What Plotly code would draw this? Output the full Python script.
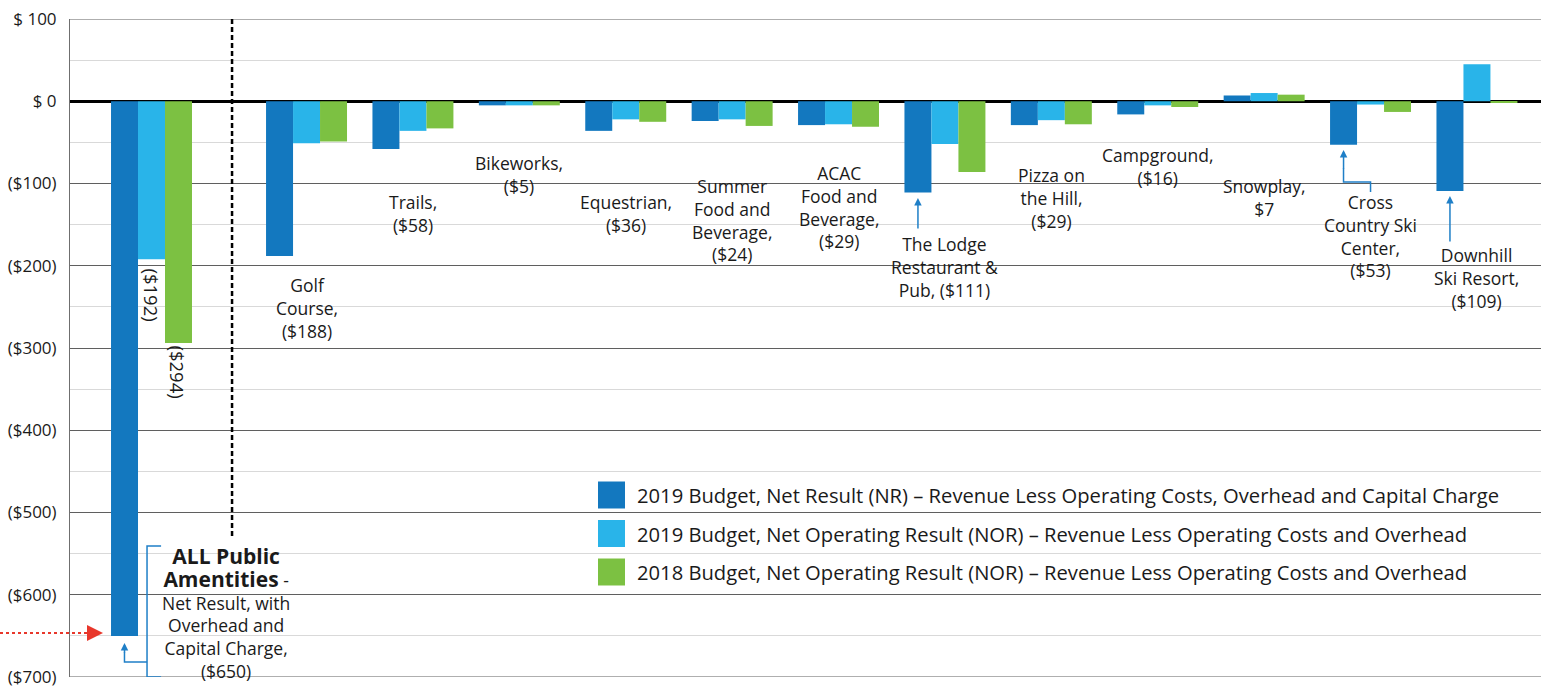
import plotly.graph_objects as go

# ---------------- data ----------------
categories = ["ALL Public Amentities", "Golf Course", "Trails", "Bikeworks", "Equestrian",
              "Summer Food and Beverage", "ACAC Food and Beverage", "The Lodge Restaurant & Pub",
              "Pizza on the Hill", "Campground", "Snowplay", "Cross Country Ski Center",
              "Downhill Ski Resort"]
nr_2019 = [-650, -188, -58, -5, -36, -24, -29, -111, -29, -16, 7, -53, -109]
nor_2019 = [-192, -51, -36, -5, -22, -22, -28, -52, -23, -5, 10, -4, 45]
nor_2018 = [-294, -49, -33, -5, -25, -30, -31, -86, -28, -7, 8, -13, -1]

series_names = [
    "2019 Budget, Net Result (NR) \u2013 Revenue Less Operating Costs, Overhead and Capital Charge",
    "2019 Budget, Net Operating Result (NOR) \u2013 Revenue Less Operating Costs and Overhead",
    "2018 Budget, Net Operating Result (NOR) \u2013 Revenue Less Operating Costs and Overhead",
]
colors = ["#1378bf", "#29b4e9", "#7cc142"]

tick_vals = [100, 0, -100, -200, -300, -400, -500, -600, -700]
tick_text = ["$ 100", "$ 0", "($100)", "($200)", "($300)", "($400)", "($500)", "($600)", "($700)"]

label_texts = [None, "Golf<br>Course,<br>($188)", "Trails,<br>($58)", "Bikeworks,<br>($5)",
               "Equestrian,<br>($36)", "Summer<br>Food and<br>Beverage,<br>($24)",
               "ACAC<br>Food and<br>Beverage,<br>($29)", "The Lodge<br>Restaurant &<br>Pub, ($111)",
               "Pizza on<br>the Hill,<br>($29)", "Campground,<br>($16)", "Snowplay,<br>$7",
               "Cross<br>Country Ski<br>Center,<br>($53)", "Downhill<br>Ski Resort,<br>($109)"]
all_label = ("<b><span style='font-size:21px'>ALL Public<br>Amentities</span></b> -<br>"
             "Net Result, with<br>Overhead and<br>Capital Charge,<br>($650)")

# ---------------- layout constants ----------------
W, H = 1549, 687
ML, MR, MT, MB = 70, 8, 19, 10
PLOT_W = W - ML - MR
PX_PER_UNIT = (H - MT - MB) / 800.0


def py_to_y(py):
    """pixel row in the 1549x687 window -> data value"""
    return -(py - MT - 100 * PX_PER_UNIT) / PX_PER_UNIT


def px_to_paper(px):
    return (px - ML) / PLOT_W


x_pos = [-0.457] + list(range(1, 13))
first_line_px = [None, 287, 203, 164, 203, 189, 176, 246, 177, 156, 187, 205, 257]
LINE_PX = 20.5
FONT = "Open Sans"
TXT = "#1a1a1a"
GRID_DARK = "#5f5f5f"
ARROW = "#1f7fc7"
bar_w = 0.761 / 3

fig = go.Figure()
for vals, name, col in zip([nr_2019, nor_2019, nor_2018], series_names, colors):
    fig.add_trace(go.Bar(x=x_pos, y=vals, name=name, marker=dict(color=col, line=dict(width=0)),
                         showlegend=False, hoverinfo="skip"))

ann = []
shapes = []

# edge gridlines at $100 and ($700)
for yv in (100, -700):
    shapes.append(dict(type="line", xref="paper", yref="y", x0=0, x1=1, y0=yv, y1=yv,
                       line=dict(color=GRID_DARK, width=1), layer="below"))

for i in range(1, len(categories)):
    n = len(label_texts[i].split("<br>"))
    cy = first_line_px[i] + (n - 1) * LINE_PX / 2
    ann.append(dict(x=x_pos[i], y=py_to_y(cy), text=label_texts[i], align="center",
                    showarrow=False, font=dict(family=FONT, size=17.5, color=TXT),
                    xanchor="center", yanchor="middle"))

# rotated labels for ALL group
ann.append(dict(x=x_pos[0], y=py_to_y(295), text="($192)", textangle=90, showarrow=False,
                font=dict(family=FONT, size=18.5, color=TXT)))
ann.append(dict(x=x_pos[0] + bar_w, y=py_to_y(372), text="($294)", textangle=90, showarrow=False,
                font=dict(family=FONT, size=18.5, color=TXT)))

# ALL public amenities annotation
ann.append(dict(x=0.24, y=py_to_y(612), text=all_label, showarrow=False, align="center",
                font=dict(family=FONT, size=17.5, color=TXT),
                xanchor="center", yanchor="middle"))

# bracket
shapes.append(dict(type="path", xref="x", yref="y",
                   path="M -0.367,%.1f L -0.499,%.1f L -0.499,%.1f L -0.367,%.1f"
                   % (py_to_y(546), py_to_y(546), py_to_y(677), py_to_y(677)),
                   line=dict(color=ARROW, width=1.5)))
shapes.append(dict(type="path", xref="x", yref="y",
                   path="M -0.499,%.1f L %.3f,%.1f L %.3f,%.1f"
                   % (py_to_y(662), x_pos[0] - bar_w, py_to_y(662), x_pos[0] - bar_w, py_to_y(652)),
                   line=dict(color=ARROW, width=1.5)))
ann.append(dict(x=x_pos[0] - bar_w, y=py_to_y(643), ax=x_pos[0] - bar_w, ay=py_to_y(654),
                axref="x", ayref="y", xref="x", yref="y", text="", showarrow=True, arrowhead=2,
                arrowsize=1, arrowwidth=1.5, arrowcolor=ARROW))

# red dotted arrow
shapes.append(dict(type="line", xref="paper", yref="y", x0=px_to_paper(0), x1=px_to_paper(88),
                   y0=py_to_y(633), y1=py_to_y(633), line=dict(color="#e8372b", width=2, dash="dot")))
ann.append(dict(x=px_to_paper(103), xref="paper", y=py_to_y(633), yref="y", ax=-16, ay=0, text="",
                showarrow=True, arrowhead=2, arrowsize=1.6, arrowwidth=2, arrowcolor="#e8372b"))

# Lodge arrow
ann.append(dict(x=7 - bar_w, y=py_to_y(198), ax=7 - bar_w, ay=py_to_y(230), axref="x", ayref="y",
                text="", showarrow=True, arrowhead=2, arrowsize=1, arrowwidth=1.5, arrowcolor=ARROW))
# Downhill arrow
ann.append(dict(x=12 - bar_w, y=py_to_y(196), ax=12 - bar_w, ay=py_to_y(243), axref="x", ayref="y",
                text="", showarrow=True, arrowhead=2, arrowsize=1, arrowwidth=1.5, arrowcolor=ARROW))
# Cross country elbow arrow
shapes.append(dict(type="path", xref="x", yref="y",
                   path="M 11,%.1f L 11,%.1f L %.3f,%.1f L %.3f,%.1f"
                   % (py_to_y(192), py_to_y(182), 11 - bar_w, py_to_y(182), 11 - bar_w, py_to_y(168)),
                   line=dict(color=ARROW, width=1.5)))
ann.append(dict(x=11 - bar_w, y=py_to_y(150), ax=11 - bar_w, ay=py_to_y(170), axref="x", ayref="y",
                text="", showarrow=True, arrowhead=2, arrowsize=1, arrowwidth=1.5, arrowcolor=ARROW))

# dashed separator
shapes.append(dict(type="line", xref="x", yref="y", x0=0.30, x1=0.30, y0=100, y1=py_to_y(538),
                   line=dict(color="#000", width=2.5, dash="5px,3px")))

# custom legend
row_px = [495, 533.5, 572]
for rp, name, col in zip(row_px, series_names, colors):
    shapes.append(dict(type="rect", xref="paper", yref="y",
                       x0=px_to_paper(598), x1=px_to_paper(625),
                       y0=py_to_y(rp + 13.5), y1=py_to_y(rp - 13.5),
                       fillcolor=col, line=dict(width=0), layer="above"))
    ann.append(dict(x=px_to_paper(635), xref="paper", y=py_to_y(rp), yref="y", text=name,
                    showarrow=False, xanchor="left", yanchor="middle",
                    font=dict(family=FONT, size=20.2, color=TXT)))

fig.update_layout(
    barmode="group", bargap=0.239, bargroupgap=0,
    width=W, height=H,
    margin=dict(l=ML, r=MR, t=MT, b=MB, autoexpand=False),
    plot_bgcolor="white", paper_bgcolor="white",
    font=dict(family=FONT, color=TXT),
    hovermode=False,
    xaxis=dict(range=[-1.223, 12.602], showticklabels=False, showgrid=False, zeroline=False,
               showline=False, ticks="", automargin=False),
    yaxis=dict(range=[-700, 100], tickvals=tick_vals, ticktext=tick_text, automargin=False,
               tickfont=dict(family=FONT, size=17, color=TXT), ticklabeloverflow="allow",
               showgrid=True, gridcolor=GRID_DARK, gridwidth=1,
               minor=dict(dtick=50, showgrid=True, gridcolor="#d9d9d9", gridwidth=1),
               zeroline=True, zerolinecolor="#000", zerolinewidth=2.5,
               showline=True, linecolor="#6f6f6f", linewidth=1, ticks="", ticklabelstandoff=9),
    annotations=ann, shapes=shapes,
)

fig.write_html("out.html", config={"displayModeBar": False},
               post_script="document.body.style.margin='0';document.body.style.overflow='hidden';")
